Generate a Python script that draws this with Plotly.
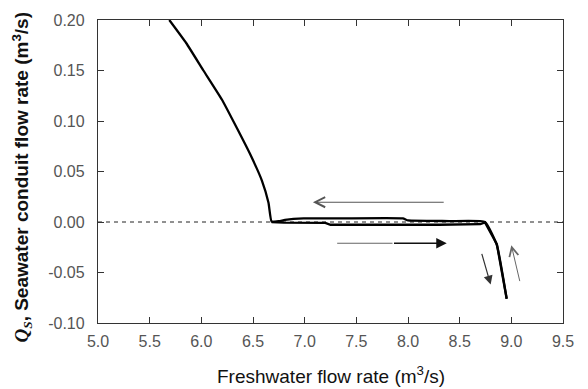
import plotly.graph_objects as go

# Decreasing freshwater flow branch (upper path)
dec_x = [8.955, 8.86, 8.745, 8.40, 8.26, 8.00, 7.95, 7.35, 6.99, 6.81, 6.75, 6.68,
         6.65, 6.586, 6.473, 6.344, 6.20, 6.02, 5.855, 5.69]
dec_y = [-0.076, -0.023, 0.0, 0.0008, 0.0012, 0.0015, 0.0035, 0.0035, 0.0035, 0.002, 0.0008, 0.0005,
         0.019, 0.041, 0.067, 0.093, 0.121, 0.150, 0.177, 0.200]

# Increasing freshwater flow branch (lower path)
inc_x = [6.68, 6.80, 7.20, 7.25, 8.30, 8.70, 8.745, 8.86, 8.955]
inc_y = [0.0, -0.0007, -0.0008, -0.0027, -0.0027, -0.0022, -0.0005, -0.022, -0.076]

# Zero reference line
zero_x = [5.0, 9.5]
zero_y = [0.0, 0.0]

# Direction arrows: (tail_x, tail_y, head_x, head_y)
arrow_left = (8.36, 0.0196, 7.08, 0.0196)
arrow_right_a = (7.30, -0.021, 7.85, -0.021)
arrow_right_b = (7.85, -0.021, 8.375, -0.021)
arrow_down = (8.71, -0.030, 8.80, -0.062)
arrow_up = (9.085, -0.060, 9.0, -0.023)

x_ticks = [5.0, 5.5, 6.0, 6.5, 7.0, 7.5, 8.0, 8.5, 9.0, 9.5]
y_ticks = [-0.10, -0.05, 0.00, 0.05, 0.10, 0.15, 0.20]

fig = go.Figure()
fig.add_trace(go.Scatter(x=zero_x, y=zero_y, mode="lines",
                         line=dict(color="#222", width=1, dash="4px,4px"), hoverinfo="skip"))
fig.add_trace(go.Scatter(x=dec_x, y=dec_y, mode="lines",
                         line=dict(color="#000", width=2.3, shape="spline", smoothing=0.4)))
fig.add_trace(go.Scatter(x=inc_x, y=inc_y, mode="lines",
                         line=dict(color="#000", width=2.3)))

def arrow(a, color, width, head, size):
    tx, ty, hx, hy = a
    return dict(x=hx, y=hy, ax=tx, ay=ty, xref="x", yref="y", axref="x", ayref="y",
                text="", showarrow=True, arrowcolor=color, arrowwidth=width,
                arrowhead=head, arrowsize=size, standoff=0, startstandoff=0)

anns = [
    arrow(arrow_left, "#555", 1.1, 5, 1.8),
    arrow(arrow_right_a, "#666", 1.1, 0, 1),
    arrow(arrow_right_b, "#111", 1.5, 2, 1.4),
    arrow(arrow_down, "#333", 1.2, 2, 1.5),
    arrow(arrow_up, "#666", 1.0, 5, 1.8),
]
anns.append(dict(text="Freshwater flow rate (m<sup>3</sup>/s)", xref="paper", yref="paper",
                 x=0.5, y=0, yshift=-52, xanchor="center", yanchor="middle", showarrow=False,
                 font=dict(family="Liberation Sans, Arial", size=19, color="#111")))
anns.append(dict(text="<b><span style='font-family:Liberation Serif, Times New Roman'><i>Q</i><sub><i>S</i></sub></span>, Seawater conduit flow rate (m<sup>3</sup>/s)</b>",
                 xref="paper", yref="paper", x=0, y=0.5, xshift=-76, yshift=-6,
                 xanchor="center", yanchor="middle", textangle=-90,
                 showarrow=False, font=dict(family="Liberation Sans, Arial", size=19, color="#111")))

axis_common = dict(showline=True, linecolor="#333", linewidth=1.3, mirror="ticks",
                   ticks="inside", ticklen=6, tickwidth=1.2, tickcolor="#333",
                   showgrid=False, zeroline=False,
                   tickfont=dict(family="Liberation Sans, Arial", size=16, color="#555"))

fig.update_layout(
    width=588, height=389,
    margin=dict(l=98, r=25, t=13, b=66),
    paper_bgcolor="white", plot_bgcolor="white",
    showlegend=False,
    xaxis=dict(range=[5.0, 9.5], tickvals=x_ticks, ticktext=[f"{v:.1f}" for v in x_ticks],
               ticklabelstandoff=4, **axis_common),
    yaxis=dict(range=[-0.10, 0.20], tickvals=y_ticks, ticktext=[f"{v:.2f}" for v in y_ticks],
               ticklabelstandoff=9, **axis_common),
    annotations=anns,
)
fig.write_html("out.html")
